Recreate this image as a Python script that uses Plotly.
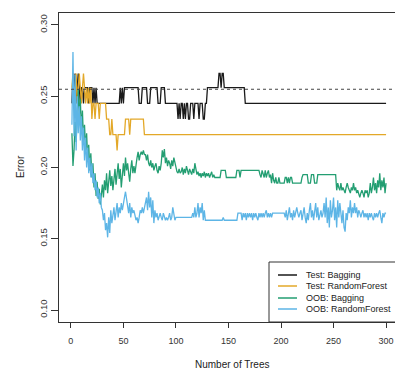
import plotly.graph_objects as go

n_trees = list(range(1, 301))

test_bagging = [
    0.245,0.266,0.256,0.266,0.245,0.256,0.266,0.256,0.245,0.256,
    0.256,0.245,0.256,0.256,0.256,0.256,0.245,0.256,0.256,0.256,
    0.245,0.256,0.245,0.256,0.245,0.245,0.245,0.245,0.245,0.245,
    0.245,0.245,0.245,0.245,0.245,0.245,0.245,0.245,0.245,0.245,
    0.245,0.245,0.245,0.245,0.245,0.245,0.256,0.245,0.256,0.245,
    0.256,0.256,0.256,0.256,0.256,0.256,0.256,0.256,0.256,0.256,
    0.256,0.256,0.256,0.256,0.245,0.245,0.245,0.256,0.256,0.256,
    0.256,0.256,0.245,0.245,0.245,0.256,0.256,0.256,0.256,0.256,
    0.256,0.256,0.245,0.245,0.245,0.256,0.256,0.256,0.256,0.245,
    0.245,0.245,0.245,0.245,0.245,0.245,0.245,0.245,0.245,0.245,
    0.245,0.234,0.245,0.234,0.245,0.245,0.234,0.245,0.234,0.245,
    0.245,0.234,0.234,0.245,0.245,0.245,0.234,0.245,0.245,0.245,
    0.245,0.234,0.245,0.245,0.245,0.234,0.234,0.245,0.245,0.256,
    0.256,0.256,0.256,0.256,0.256,0.256,0.256,0.256,0.256,0.256,
    0.266,0.266,0.256,0.266,0.266,0.256,0.256,0.256,0.256,0.256,
    0.256,0.256,0.256,0.256,0.256,0.256,0.256,0.256,0.256,0.256,
    0.256,0.256,0.256,0.256,0.256,0.245,0.245,0.245,0.245,0.245,
    0.245,0.245,0.245,0.245,0.245,0.245,0.245,0.245,0.245,0.245,
    0.245,0.245,0.245,0.245,0.245,0.245,0.245,0.245,0.245,0.245,
    0.245,0.245,0.245,0.245,0.245,0.245,0.245,0.245,0.245,0.245,
    0.245,0.245,0.245,0.245,0.245,0.245,0.245,0.245,0.245,0.245,
    0.245,0.245,0.245,0.245,0.245,0.245,0.245,0.245,0.245,0.245,
    0.245,0.245,0.245,0.245,0.245,0.245,0.245,0.245,0.245,0.245,
    0.245,0.245,0.245,0.245,0.245,0.245,0.245,0.245,0.245,0.245,
    0.245,0.245,0.245,0.245,0.245,0.245,0.245,0.245,0.245,0.245,
    0.245,0.245,0.245,0.245,0.245,0.245,0.245,0.245,0.245,0.245,
    0.245,0.245,0.245,0.245,0.245,0.245,0.245,0.245,0.245,0.245,
    0.245,0.245,0.245,0.245,0.245,0.245,0.245,0.245,0.245,0.245,
    0.245,0.245,0.245,0.245,0.245,0.245,0.245,0.245,0.245,0.245,
    0.245,0.245,0.245,0.245,0.245,0.245,0.245,0.245,0.245,0.245,
]

test_rf = [
    0.256,0.266,0.245,0.256,0.266,0.245,0.256,0.266,0.256,0.245,
    0.256,0.266,0.256,0.245,0.256,0.245,0.256,0.245,0.256,0.234,
    0.245,0.245,0.234,0.245,0.245,0.245,0.234,0.245,0.245,0.245,
    0.245,0.245,0.245,0.234,0.234,0.234,0.223,0.223,0.234,0.223,
    0.223,0.223,0.223,0.212,0.223,0.223,0.223,0.223,0.223,0.223,
    0.223,0.234,0.234,0.234,0.234,0.223,0.234,0.234,0.234,0.234,
    0.234,0.234,0.234,0.234,0.234,0.234,0.234,0.234,0.234,0.223,
    0.223,0.223,0.223,0.223,0.223,0.223,0.223,0.223,0.223,0.223,
    0.223,0.223,0.223,0.223,0.223,0.223,0.223,0.223,0.223,0.223,
    0.223,0.223,0.223,0.223,0.223,0.223,0.223,0.223,0.223,0.223,
    0.223,0.223,0.223,0.223,0.223,0.223,0.223,0.223,0.223,0.223,
    0.223,0.223,0.223,0.223,0.223,0.223,0.223,0.223,0.223,0.223,
    0.223,0.223,0.223,0.223,0.223,0.223,0.223,0.223,0.223,0.223,
    0.223,0.223,0.223,0.223,0.223,0.223,0.223,0.223,0.223,0.223,
    0.223,0.223,0.223,0.223,0.223,0.223,0.223,0.223,0.223,0.223,
    0.223,0.223,0.223,0.223,0.223,0.223,0.223,0.223,0.223,0.223,
    0.223,0.223,0.223,0.223,0.223,0.223,0.223,0.223,0.223,0.223,
    0.223,0.223,0.223,0.223,0.223,0.223,0.223,0.223,0.223,0.223,
    0.223,0.223,0.223,0.223,0.223,0.223,0.223,0.223,0.223,0.223,
    0.223,0.223,0.223,0.223,0.223,0.223,0.223,0.223,0.223,0.223,
    0.223,0.223,0.223,0.223,0.223,0.223,0.223,0.223,0.223,0.223,
    0.223,0.223,0.223,0.223,0.223,0.223,0.223,0.223,0.223,0.223,
    0.223,0.223,0.223,0.223,0.223,0.223,0.223,0.223,0.223,0.223,
    0.223,0.223,0.223,0.223,0.223,0.223,0.223,0.223,0.223,0.223,
    0.223,0.223,0.223,0.223,0.223,0.223,0.223,0.223,0.223,0.223,
    0.223,0.223,0.223,0.223,0.223,0.223,0.223,0.223,0.223,0.223,
    0.223,0.223,0.223,0.223,0.223,0.223,0.223,0.223,0.223,0.223,
    0.223,0.223,0.223,0.223,0.223,0.223,0.223,0.223,0.223,0.223,
    0.223,0.223,0.223,0.223,0.223,0.223,0.223,0.223,0.223,0.223,
    0.223,0.223,0.223,0.223,0.223,0.223,0.223,0.223,0.223,0.223,
]

oob_bagging = [
    0.224,0.201,0.212,0.232,0.218,0.243,0.255,0.236,0.248,0.226,
    0.240,0.219,0.230,0.212,0.224,0.205,0.216,0.198,0.210,0.193,
    0.203,0.186,0.196,0.180,0.190,0.178,0.185,0.174,0.181,0.188,
    0.179,0.191,0.184,0.196,0.182,0.190,0.198,0.187,0.194,0.184,
    0.192,0.199,0.188,0.196,0.203,0.192,0.199,0.186,0.196,0.203,
    0.194,0.207,0.198,0.203,0.196,0.190,0.199,0.205,0.196,0.201,
    0.196,0.203,0.207,0.211,0.205,0.209,0.211,0.209,0.212,0.209,
    0.209,0.205,0.209,0.203,0.201,0.205,0.200,0.203,0.198,0.201,
    0.203,0.198,0.196,0.201,0.198,0.203,0.212,0.207,0.213,0.203,
    0.207,0.201,0.205,0.203,0.199,0.205,0.201,0.207,0.203,0.199,
    0.197,0.196,0.199,0.196,0.197,0.200,0.195,0.199,0.196,0.201,
    0.197,0.195,0.199,0.197,0.195,0.199,0.196,0.203,0.197,0.195,
    0.197,0.194,0.196,0.193,0.196,0.194,0.197,0.193,0.196,0.194,
    0.196,0.193,0.195,0.197,0.193,0.195,0.193,0.193,0.193,0.193,
    0.193,0.193,0.198,0.198,0.198,0.198,0.198,0.193,0.193,0.193,
    0.193,0.193,0.193,0.193,0.193,0.193,0.193,0.198,0.198,0.198,
    0.193,0.198,0.198,0.198,0.198,0.198,0.198,0.198,0.198,0.198,
    0.198,0.198,0.198,0.198,0.198,0.198,0.198,0.198,0.198,0.195,
    0.193,0.198,0.195,0.193,0.198,0.193,0.196,0.198,0.193,0.195,
    0.189,0.196,0.191,0.189,0.193,0.189,0.189,0.193,0.189,0.189,
    0.189,0.189,0.189,0.193,0.193,0.189,0.193,0.189,0.193,0.193,
    0.189,0.189,0.189,0.189,0.189,0.189,0.189,0.189,0.189,0.193,
    0.195,0.195,0.195,0.195,0.195,0.189,0.189,0.189,0.195,0.195,
    0.195,0.189,0.189,0.189,0.195,0.195,0.195,0.195,0.195,0.195,
    0.195,0.195,0.195,0.195,0.195,0.195,0.195,0.195,0.195,0.195,
    0.195,0.195,0.184,0.189,0.186,0.184,0.189,0.184,0.186,0.184,
    0.182,0.186,0.189,0.186,0.184,0.182,0.186,0.184,0.189,0.184,
    0.186,0.182,0.184,0.182,0.179,0.182,0.184,0.182,0.179,0.184,
    0.182,0.184,0.179,0.182,0.189,0.182,0.186,0.193,0.184,0.189,
    0.182,0.191,0.186,0.196,0.184,0.191,0.186,0.193,0.182,0.189,
]

oob_rf = [
    0.230,0.281,0.222,0.265,0.212,0.250,0.224,0.243,0.219,0.236,
    0.212,0.228,0.205,0.221,0.200,0.214,0.196,0.207,0.193,0.203,
    0.189,0.196,0.184,0.191,0.179,0.186,0.175,0.182,0.172,0.170,
    0.163,0.168,0.156,0.161,0.151,0.165,0.154,0.170,0.161,0.168,
    0.172,0.163,0.170,0.175,0.165,0.172,0.168,0.175,0.170,0.177,
    0.179,0.183,0.177,0.172,0.168,0.175,0.165,0.172,0.168,0.170,
    0.165,0.163,0.165,0.161,0.165,0.170,0.168,0.172,0.168,0.172,
    0.175,0.179,0.170,0.183,0.172,0.179,0.165,0.177,0.161,0.170,
    0.165,0.168,0.163,0.165,0.168,0.165,0.163,0.168,0.165,0.163,
    0.165,0.163,0.165,0.168,0.163,0.165,0.172,0.165,0.163,0.165,
    0.165,0.165,0.165,0.165,0.165,0.165,0.165,0.165,0.165,0.165,
    0.165,0.165,0.165,0.165,0.165,0.168,0.165,0.172,0.165,0.168,
    0.175,0.165,0.172,0.168,0.175,0.163,0.170,0.163,0.163,0.163,
    0.163,0.163,0.163,0.163,0.163,0.163,0.163,0.163,0.163,0.163,
    0.163,0.163,0.163,0.163,0.165,0.163,0.163,0.163,0.163,0.163,
    0.163,0.163,0.163,0.163,0.163,0.163,0.163,0.163,0.168,0.168,
    0.168,0.168,0.163,0.168,0.165,0.168,0.163,0.168,0.165,0.168,
    0.165,0.168,0.163,0.168,0.165,0.168,0.165,0.163,0.168,0.165,
    0.168,0.165,0.168,0.165,0.168,0.170,0.165,0.168,0.165,0.168,
    0.165,0.168,0.168,0.168,0.168,0.168,0.168,0.168,0.168,0.168,
    0.168,0.168,0.168,0.165,0.170,0.163,0.168,0.172,0.165,0.168,
    0.163,0.170,0.165,0.168,0.172,0.168,0.165,0.168,0.170,0.163,
    0.168,0.172,0.165,0.161,0.168,0.163,0.170,0.175,0.165,0.170,
    0.163,0.168,0.175,0.165,0.172,0.163,0.168,0.170,0.165,0.168,
    0.175,0.165,0.179,0.161,0.172,0.158,0.177,0.165,0.170,0.179,
    0.163,0.172,0.158,0.177,0.165,0.175,0.168,0.161,0.170,0.158,
    0.155,0.168,0.163,0.172,0.168,0.177,0.165,0.172,0.168,0.175,
    0.168,0.172,0.165,0.170,0.168,0.165,0.168,0.170,0.165,0.168,
    0.165,0.168,0.163,0.168,0.165,0.168,0.165,0.163,0.168,0.165,
    0.168,0.165,0.168,0.170,0.165,0.161,0.168,0.165,0.168,0.168,
]

single_tree_error = 0.2549

series_names = ["Test: Bagging", "Test: RandomForest", "OOB: Bagging", "OOB: RandomForest"]
series_values = [test_bagging, test_rf, oob_bagging, oob_rf]
series_colors = ["#1a1a1a", "#E3A828", "#239E72", "#5DB5E6"]

y_ticks = [0.10, 0.15, 0.20, 0.25, 0.30]
x_ticks = [0, 50, 100, 150, 200, 250, 300]

FONT = "Liberation Sans, Arial, sans-serif"
AX = "#333333"

fig = go.Figure()
for name, vals, col in zip(series_names, series_values, series_colors):
    fig.add_trace(go.Scatter(x=n_trees, y=vals, mode="lines", name=name,
                             line=dict(color=col, width=1.3), showlegend=False))

W, H = 395, 370
ml, mr, mt, mb = 59, 0, 13, 48
pw, ph = W - ml - mr, H - mt - mb


def px_x(p):
    return (p - ml) / pw


def px_y(p):
    return (H - mb - p) / ph


shapes = [
    dict(type="line", xref="paper", yref="y", x0=0, x1=1,
         y0=single_tree_error, y1=single_tree_error,
         line=dict(color="#444444", width=1, dash="3px,3px")),
    dict(type="rect", xref="paper", yref="paper",
         x0=px_x(269), x1=px_x(420), y0=px_y(322), y1=px_y(262),
         line=dict(color=AX, width=1), fillcolor="white", layer="above"),
]
annotations = []
rows_y = [275, 286, 298, 309]
for name, col, ry in zip(series_names, series_colors, rows_y):
    shapes.append(dict(type="line", xref="paper", yref="paper",
                       x0=px_x(278), x1=px_x(297), y0=px_y(ry), y1=px_y(ry),
                       line=dict(color=col, width=1.5), layer="above"))
    annotations.append(dict(x=px_x(304), y=px_y(ry), xref="paper", yref="paper",
                            text=name, showarrow=False, xanchor="left", yanchor="middle",
                            font=dict(family=FONT, size=9, color="#222222")))

annotations.append(dict(x=px_x(20), y=px_y(167), xref="paper", yref="paper",
                        text="Error", showarrow=False, textangle=-90,
                        xanchor="center", yanchor="middle",
                        font=dict(family=FONT, size=10, color="#222222")))
annotations.append(dict(x=px_x(232), y=px_y(364), xref="paper", yref="paper",
                        text="Number of Trees", showarrow=False,
                        xanchor="center", yanchor="middle",
                        font=dict(family=FONT, size=10, color="#222222")))

fig.update_layout(
    width=W, height=H,
    margin=dict(l=ml, r=mr, t=mt, b=mb, pad=0),
    paper_bgcolor="white", plot_bgcolor="white",
    shapes=shapes, annotations=annotations,
    font=dict(family=FONT, size=9, color="#333333"),
    xaxis=dict(range=[-11.3, 308.5], tickvals=x_ticks, ticks="outside", ticklen=5,
               tickcolor=AX, tickwidth=1, showline=True, linecolor=AX, linewidth=1.2,
               mirror=True, showgrid=False, zeroline=False, ticklabelstandoff=5,
               tickfont=dict(family=FONT, size=9, color="#333333")),
    yaxis=dict(range=[0.0916, 0.3084], tickvals=y_ticks, tickformat=".2f",
               ticks="outside", ticklen=7, tickcolor=AX, tickwidth=1,
               showline=True, linecolor=AX, linewidth=1.2, mirror=False,
               showgrid=False, zeroline=False, tickangle=-90,
               tickfont=dict(family=FONT, size=9.5, color="#333333")),
)

fig.write_html("out.html")
